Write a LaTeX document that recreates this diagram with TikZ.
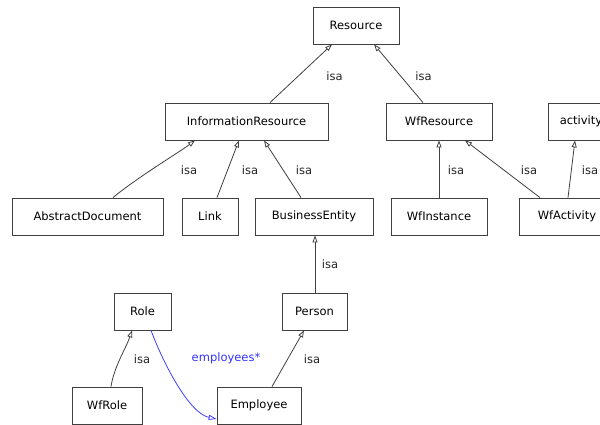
\documentclass[tikz,border=0pt]{standalone}
\usepackage{fontspec}
\setmainfont{DejaVu Sans}
\usetikzlibrary{arrows.meta,calc}
\begin{document}
\begin{tikzpicture}[x=1pt,y=-1pt,
  cls/.style={draw=black!75, line width=0.8pt, minimum height=37pt, inner sep=0pt, font=\fontsize{11.5}{13}\selectfont},
  isa/.style={draw=black!75, line width=0.8pt, -{Triangle[open,length=7pt,width=5pt]}},
  rel/.style={draw=blue!75, line width=0.8pt, -{Triangle[open,length=8pt,width=5pt]}},
  lbl/.style={font=\fontsize{11.5}{13}\selectfont, text=black!85, inner sep=0pt},
]
\clip (0,0) rectangle (600,425);
\fill[white] (0,0) rectangle (600,425);
% classes
\node[cls, minimum width=86pt] (res) at (356,25.5) {Resource};
\node[cls, minimum width=163pt] (ir) at (246.5,121.5) {InformationResource};
\node[cls, minimum width=106pt] (wfr) at (439,121.5) {WfResource};
\node[cls, minimum width=66pt] (act) at (581,121.5) {activity};
\node[cls, minimum width=151pt] (ad) at (87.5,216.5) {AbstractDocument};
\node[cls, minimum width=56pt] (link) at (210,216.5) {Link};
\node[cls, minimum width=118pt] (be) at (314,216.5) {BusinessEntity};
\node[cls, minimum width=96pt] (wfi) at (439,216.5) {WfInstance};
\node[cls, minimum width=96pt] (wfa) at (567,216.5) {WfActivity};
\node[cls, minimum width=57pt] (role) at (142.5,311.5) {Role};
\node[cls, minimum width=65pt] (person) at (314.5,311.5) {Person};
\node[cls, minimum width=70pt] (wfrole) at (107,405.5) {WfRole};
\node[cls, minimum width=84pt] (emp) at (259,405.5) {Employee};
% isa connectors
\draw[isa] ([xshift=23.5pt]ir.north) -- ([xshift=-24pt]res.south);
\draw[isa] ([xshift=-16pt]wfr.north) -- ([xshift=18pt]res.south);
\draw[isa] ([xshift=25.5pt]ad.north) .. controls +(24,-20) and +(-16,12) .. ([xshift=-51.5pt]ir.south);
\draw[isa] ([xshift=7pt]link.north) -- ([xshift=-7.5pt]ir.south);
\draw[isa] ([xshift=-13pt]be.north) -- ([xshift=17.5pt]ir.south);
\draw[isa] (wfi.north) -- (wfr.south);
\draw[isa] ([xshift=-27pt]wfa.north) -- ([xshift=26pt]wfr.south);
\draw[isa] ([xshift=1pt]wfa.north) -- ([xshift=-6pt]act.south);
\draw[isa] ([xshift=0.5pt]person.north) -- ([xshift=1pt]be.south);
\draw[isa] ([xshift=4pt]wfrole.north) .. controls +(3,-20) and +(-6,18) .. ([xshift=-10.5pt]role.south);
\draw[isa] ([xshift=13pt]emp.north) -- ([xshift=-10.5pt]person.south);
% relation
\draw[rel] ([xshift=8.5pt]role.south) .. controls +(12,32) and +(-28,-6) .. ([yshift=-13.5pt]emp.west);
% labels
\node[lbl] (l1) at (334.5,76) {isa};
\node[lbl] (l2) at (423.5,76) {isa};
\node[lbl] (l3) at (189,170) {isa};
\node[lbl] (l4) at (250,170) {isa};
\node[lbl] (l5) at (304,170) {isa};
\node[lbl] (l6) at (456,170) {isa};
\node[lbl] (l7) at (529,170) {isa};
\node[lbl] (l8) at (590,170) {isa};
\node[lbl] (l9) at (330,264) {isa};
\node[lbl] (l10) at (142,359) {isa};
\node[lbl] (l11) at (312,359) {isa};
\node[lbl, text=blue!80] (l12) at (226,358) {employees*};
\end{tikzpicture}
\end{document}
